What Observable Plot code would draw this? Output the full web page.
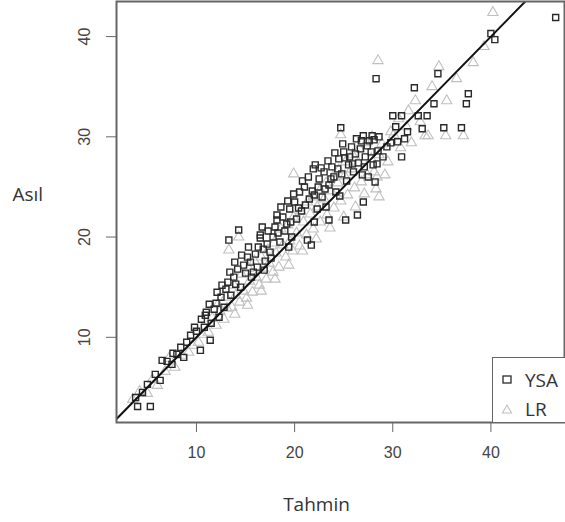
<!DOCTYPE html>
<html>
<head>
<meta charset="utf-8">
<script src="https://cdn.jsdelivr.net/npm/d3@7"></script>
<script src="https://cdn.jsdelivr.net/npm/@observablehq/plot@0.6"></script>
<style>
  html, body { margin: 0; padding: 0; background: #fff; }
  #wrap { position: relative; width: 565px; height: 522px; overflow: hidden; }
  #legend { position: absolute; left: 492px; top: 357px; width: 90px; height: 64px;
            border: 1.5px solid #666; background: #fff; font-family: "Open Sans", sans-serif;
            font-size: 19px; color: #333; }
  #legend .row { position: absolute; left: 0; display: flex; align-items: center; }
  #legend svg { margin-left: 8px; margin-right: 12px; }
</style>
</head>
<body>
<div id="wrap"></div>
<script>
// Tahmin (x) and Asıl (y) pairs for each model
const ysaPoints = [
  [4.0,3.1],[5.3,3.1],[3.8,4.0],[4.5,4.5],[5.0,5.3],[6.3,5.7],[5.8,6.3],[6.5,7.7],[7.0,7.6],[7.5,7.3],
  [8.0,8.3],[8.7,8.0],[9.0,9.5],[9.4,10.2],[10.4,8.7],[10.0,10.6],[10.8,11.0],[11.4,9.7],[10.5,11.8],[11.0,12.5],
  [11.5,11.4],[12.0,13.4],[11.8,12.8],[12.3,12.0],[12.5,14.0],[12.8,13.0],[13.0,14.8],[13.2,15.5],[13.5,14.2],[13.8,16.0],
  [14.0,15.3],[14.2,16.8],[14.5,15.0],[13.3,19.7],[14.3,20.7],[14.8,17.2],[15.0,16.4],[15.2,18.0],[15.5,17.5],[15.8,16.5],
  [16.0,18.3],[16.2,17.0],[16.5,20.2],[16.5,19.9],[16.8,18.8],[17.0,17.6],[17.2,19.3],[17.5,18.5],[17.8,20.0],[18.0,21.0],
  [18.2,22.2],[18.2,21.7],[18.5,19.5],[18.8,22.0],[19.0,20.6],[19.2,21.3],[19.5,22.8],[19.7,20.0],[20.0,23.5],[20.2,21.8],
  [20.5,24.5],[20.7,22.6],[21.0,25.0],[21.3,19.7],[21.7,19.2],[21.5,23.8],[21.9,26.8],[22.0,24.2],[22.3,22.8],[22.5,25.8],
  [22.8,24.0],[23.0,26.5],[23.2,23.0],[23.5,21.7],[23.5,25.2],[23.8,27.0],[24.0,26.0],[24.2,24.5],[24.5,27.8],[24.7,30.9],
  [24.8,26.3],[25.0,28.5],[25.2,21.7],[25.3,25.6],[25.5,27.2],[25.8,29.0],[26.0,26.5],[26.2,28.3],[26.4,22.2],[26.5,27.4],
  [26.8,29.6],[27.0,30.1],[27.0,23.5],[27.2,28.0],[27.4,29.1],[27.5,26.0],[27.9,30.1],[28.0,27.2],[28.2,25.5],[28.3,35.8],
  [28.5,28.6],[29.0,28.0],[29.4,29.0],[30.0,32.1],[30.9,32.1],[30.5,29.5],[30.9,28.0],[31.5,30.5],[32.2,34.9],[32.6,32.1],
  [33.5,32.1],[33.0,30.8],[34.2,33.3],[34.6,36.3],[35.2,30.9],[37.0,30.9],[37.5,33.3],[37.7,34.3],[40.0,40.3],[40.4,39.7],
  [46.6,41.9],
  [12.1,14.5],[12.6,15.2],[13.4,16.5],[13.9,17.5],[14.6,18.2],[15.3,19.0],[15.6,16.0],[16.3,19.0],[16.7,21.0],[17.3,20.6],
  [17.6,17.9],[18.3,20.4],[18.6,23.0],[19.3,23.6],[19.6,21.5],[19.9,24.3],[20.4,22.9],[20.8,25.6],[21.1,23.2],[21.4,26.0],
  [21.8,24.6],[22.1,27.2],[22.4,25.0],[22.7,26.9],[23.1,24.8],[23.4,27.6],[23.7,25.8],[24.1,28.4],[24.4,26.8],[24.9,29.3],
  [25.1,27.9],[25.6,28.0],[25.9,27.3],[26.3,29.8],[26.7,28.8],[27.1,27.0],[27.6,29.6],[27.8,28.5],[28.1,29.7],[28.4,27.3],
  [28.6,30.0],[29.8,29.4],[30.3,31.0],[31.2,29.8],[11.3,13.3],[10.9,12.2],[9.8,11.0],[8.4,9.0],[7.6,8.4],[16.9,16.7],
  [19.4,19.0],[22.0,21.5],[24.6,24.1],[26.9,26.2]
];
const lrPoints = [
  [3.5,3.8],[4.2,4.6],[5.0,4.4],[5.5,5.8],[6.0,5.2],[6.8,6.6],[7.2,7.9],[7.8,7.0],[8.5,8.2],[9.2,8.5],
  [9.6,9.2],[10.2,9.5],[10.6,10.3],[11.2,10.5],[11.6,11.9],[12.0,11.2],[12.4,12.6],[12.8,11.8],[13.1,12.9],[13.3,18.7],
  [13.6,13.0],[14.0,14.2],[14.3,20.0],[14.4,13.5],[14.8,14.6],[15.1,13.9],[15.4,15.6],[15.7,14.5],[16.1,16.0],[16.4,15.2],
  [16.8,16.9],[17.1,15.8],[17.4,17.4],[17.8,16.5],[18.1,18.4],[18.4,17.0],[18.8,19.2],[19.1,18.0],[19.5,19.6],[19.9,26.3],
  [19.8,18.6],[20.2,20.4],[20.5,19.1],[20.9,21.5],[21.2,20.2],[21.6,22.3],[21.9,20.8],[22.3,23.0],[22.6,21.5],[23.0,23.8],
  [23.3,22.2],[23.7,24.6],[24.0,22.9],[24.4,25.4],[24.7,30.2],[24.7,23.6],[25.1,26.1],[25.4,24.2],[25.8,26.8],[26.1,24.9],
  [26.5,27.4],[26.8,25.5],[27.1,24.3],[27.4,26.2],[27.8,27.8],[28.1,26.5],[28.4,26.0],[28.6,24.0],[28.5,37.6],[28.9,29.3],
  [29.5,27.5],[30.1,30.2],[30.8,28.9],[31.4,31.0],[31.9,29.4],[32.3,33.6],[32.8,31.5],[33.3,30.1],[33.6,30.1],[34.0,35.0],
  [34.7,37.0],[35.4,30.1],[35.5,33.6],[36.5,35.8],[37.2,30.1],[38.2,37.4],[39.3,39.0],[40.2,42.4],
  [12.2,13.3],[13.0,14.0],[13.8,15.2],[14.6,16.3],[15.3,16.9],[15.9,17.6],[16.6,18.0],[17.3,18.7],[17.9,19.4],[18.6,20.8],
  [19.3,21.2],[19.9,22.0],[20.6,22.6],[21.3,23.5],[21.9,24.0],[22.6,24.7],[23.2,25.4],[23.9,26.0],[24.5,26.7],[25.2,27.5],
  [25.9,28.2],[26.6,28.8],[27.3,29.4],[27.9,30.0],[28.6,28.2],[26.2,23.0],[25.0,22.0],[23.6,20.9],[22.2,19.8],[20.8,18.6],
  [19.4,17.2],[18.0,15.8],[16.6,14.6],[15.2,13.2],[13.9,12.3],[29.8,30.5],[30.6,31.8],[31.6,32.6],[29.2,26.2],[28.3,24.8]
];
const xTicks = [10, 20, 30, 40];
const yTicks = [10, 20, 30, 40];
const refLine = [0, 50];   // y = x reference
const xLabel = "Tahmin";
const yLabel = "Asıl";
const seriesNames = ["YSA", "LR"];

const chart = Plot.plot({
  width: 565,
  height: 522,
  marginLeft: 116,
  marginRight: 1,
  marginTop: 1,
  marginBottom: 100,
  x: {domain: [1.85, 47.5]},
  y: {domain: [1.5, 43.5]},
  style: {fontFamily: "'Liberation Sans', Arial, sans-serif", fontSize: "16px", background: "#fff", color: "#444"},
  marks: [
    Plot.axisX({ticks: xTicks, tickSize: 10, tickPadding: 14, stroke: "#666", fill: "#444", label: null}),
    Plot.axisY({ticks: yTicks, tickSize: 10, tickPadding: 17, tickRotate: -90, stroke: "#666", fill: "#444", label: null}),
    Plot.dot(lrPoints, {x: d => d[0], y: d => d[1], symbol: "triangle", r: 3.8, stroke: "#c0c0c0", strokeWidth: 1.1, fill: "none"}),
    Plot.dot(ysaPoints, {x: d => d[0], y: d => d[1], symbol: "square", r: 3.4, stroke: "#2a2a2a", strokeWidth: 1.4, fill: "none"}),
    Plot.line(refLine, {x: d => d, y: d => d, stroke: "#111", strokeWidth: 2, clip: true}),
    Plot.frame({stroke: "#666", strokeWidth: 2}),
    Plot.text([xLabel], {text: d => d, frameAnchor: "bottom", dx: -24, dy: 88, fontFamily: "'Open Sans', sans-serif", fontSize: 19, fill: "#333"}),
    Plot.text([yLabel], {text: d => d, frameAnchor: "left", dx: -104, dy: -17, fontFamily: "'Open Sans', sans-serif", fontSize: 19, fill: "#333"})
  ]
});
const wrap = document.getElementById("wrap");
wrap.appendChild(chart);

const legend = document.createElement("div");
legend.id = "legend";
legend.innerHTML = `
  <div class="row" style="top:9px"><svg width="12" height="12"><rect x="2" y="2" width="8" height="7" fill="none" stroke="#2a2a2a" stroke-width="1.3"/></svg><span>${seriesNames[0]}</span></div>
  <div class="row" style="top:38px"><svg width="12" height="12"><path d="M6,2 L10.5,10 L1.5,10 Z" fill="none" stroke="#c0c0c0" stroke-width="1.1"/></svg><span>${seriesNames[1]}</span></div>`;
wrap.appendChild(legend);
</script>
</body>
</html>
